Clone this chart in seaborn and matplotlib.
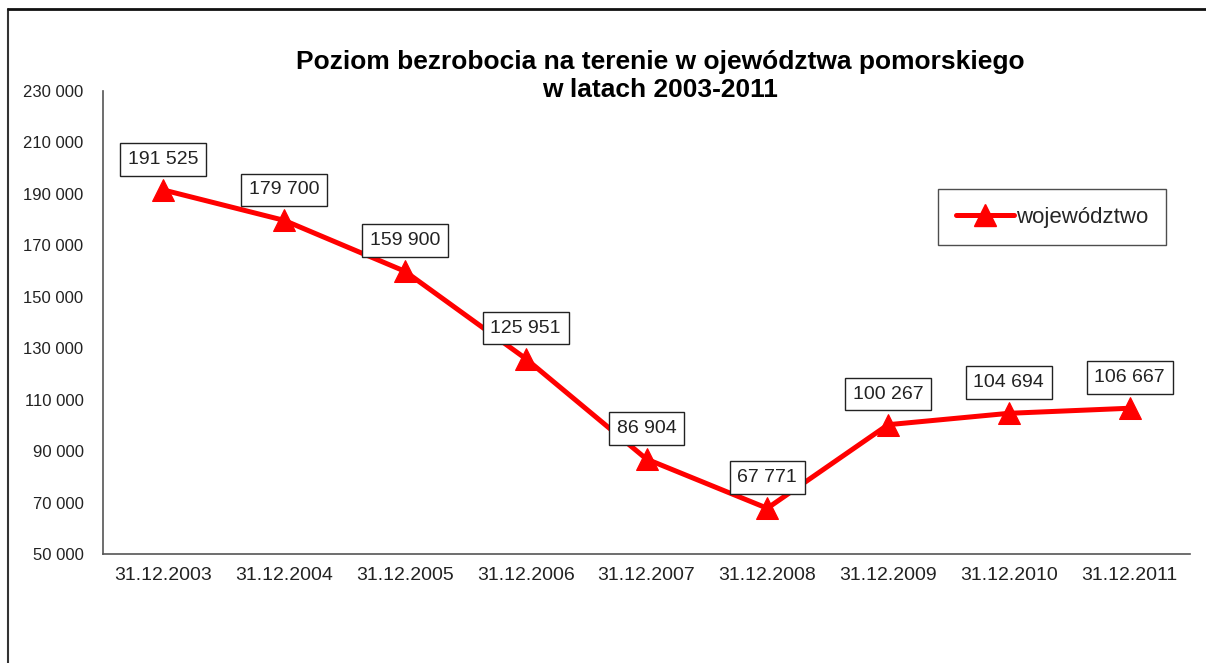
import matplotlib
matplotlib.use("Agg")
import matplotlib.pyplot as plt
import seaborn as sns
import pandas as pd
from matplotlib.ticker import FuncFormatter, FixedLocator, NullFormatter
from matplotlib.lines import Line2D

categories = ["31.12.2003", "31.12.2004", "31.12.2005", "31.12.2006", "31.12.2007",
              "31.12.2008", "31.12.2009", "31.12.2010", "31.12.2011"]
values = [191525, 179700, 159900, 125951, 86904, 67771, 100267, 104694, 106667]
series_name = "województwo"
title = "Poziom bezrobocia na terenie w ojewództwa pomorskiego\nw latach 2003-2011"

sns.set_theme(style="white")
plt.rcParams['font.family'] = ['Liberation Sans', 'DejaVu Sans']

df = pd.DataFrame({"data": categories, "bezrobotni": values})

fig = plt.figure(figsize=(12.06, 6.63), dpi=100)
ax = fig.add_axes([103/1206, 1-554/663, (1190-103)/1206, (554-91)/663])

sns.lineplot(data=df, x="data", y="bezrobotni", ax=ax, color="#ff0000", linewidth=3.6,
             marker="^", markersize=16, markeredgecolor="#ff0000", sort=False)

ax.set_xlim(-0.5, len(categories) - 0.5)
ax.set_ylim(50000, 230000)
ax.set_yticks(range(50000, 230001, 20000))
ax.yaxis.set_major_formatter(FuncFormatter(lambda v, p: f"{int(v):,}".replace(",", " ")))

ax.xaxis.set_major_locator(FixedLocator([i - 0.5 for i in range(len(categories) + 1)]))
ax.xaxis.set_major_formatter(NullFormatter())
ax.xaxis.set_minor_locator(FixedLocator(list(range(len(categories)))))
ax.set_xticklabels(categories, minor=True)
ax.tick_params(axis="x", which="minor", length=0, pad=9, labelsize=14, colors="#222222")
ax.tick_params(axis="x", which="major", length=6, width=1, color="#555555", direction="out")
ax.tick_params(axis="y", length=6, width=1, color="#555555", direction="out", labelsize=12,
               labelcolor="#222222", pad=8)
ax.set_xlabel("")
ax.set_ylabel("")

for s in ["top", "right"]:
    ax.spines[s].set_visible(False)
for s in ["left", "bottom"]:
    ax.spines[s].set_color("#555555")
    ax.spines[s].set_linewidth(1.2)

for i, v in enumerate(values):
    ax.annotate(f"{v:,}".replace(",", " "), xy=(i, v), xytext=(0, 22), textcoords="offset points",
                ha="center", va="center", fontsize=14, color="#222222",
                bbox=dict(boxstyle="square,pad=0.4", fc="white", ec="#222222", lw=1))

fig.text(660/1206, 1-76/663, title, ha="center", va="center", fontsize=19, fontweight="bold",
         linespacing=1.2, color="#000000")

handle = Line2D([0], [0], color="#ff0000", lw=3.6, marker="^", markersize=16, markeredgecolor="#ff0000")
leg = ax.legend([handle], [series_name], loc="center", bbox_to_anchor=((1052-103)/(1190-103), (554-217)/(554-91)),
                frameon=True, fancybox=False, edgecolor="#222222", fontsize=16, handlelength=2.6,
                handletextpad=0.1, borderpad=0.8, borderaxespad=0)
leg.get_frame().set_linewidth(1)

# outer chart frame (top and left edges visible)
fig.add_artist(Line2D([8/1206, 8/1206], [0, 1-9/663], transform=fig.transFigure, color="#333333", lw=1.5))
fig.add_artist(Line2D([8/1206, 1], [1-9/663, 1-9/663], transform=fig.transFigure, color="#111111", lw=2))

fig.savefig("out.png", dpi=100, facecolor="white")
